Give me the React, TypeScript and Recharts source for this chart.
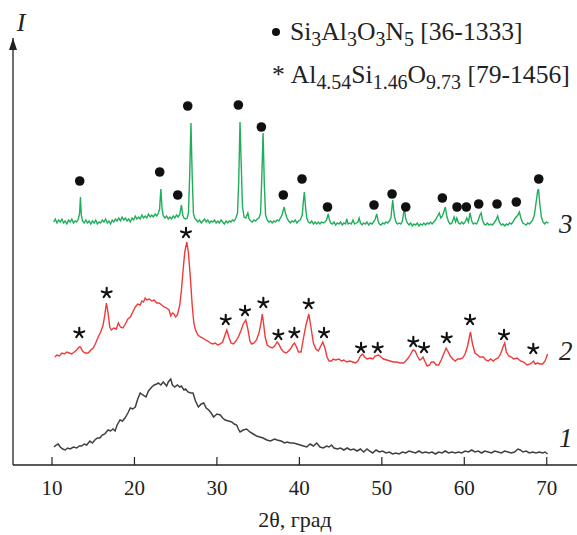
import { ComposedChart, Line, Scatter, XAxis, YAxis, Legend, ReferenceDot } from "recharts"

const serif = "'Liberation Serif', 'Times New Roman', serif"

const xTicks = [10, 20, 30, 40, 50, 60, 70]

// [2θ, intensity] – trace 3 (green)
const trace3: [number, number][] = [
  [10.2, 243], [10.4, 246], [10.6, 242], [10.8, 245], [11.0, 243], [11.2, 246], [11.4, 242], [11.6, 244], [11.8, 241], [12.0, 245],
  [12.2, 243], [12.4, 246], [12.6, 242], [12.8, 244], [13.0, 243], [13.2, 246], [13.35, 252], [13.45, 268], [13.55, 250], [13.7, 244],
  [13.9, 242], [14.1, 245], [14.3, 242], [14.5, 244], [14.7, 241], [14.9, 244], [15.1, 242], [15.3, 245], [15.5, 241], [15.7, 243],
  [15.9, 242], [16.1, 245], [16.3, 243], [16.5, 246], [16.7, 242], [16.9, 244], [17.1, 241], [17.3, 245], [17.5, 243], [17.7, 246],
  [17.9, 244], [18.1, 247], [18.3, 244], [18.5, 248], [18.7, 245], [18.9, 247], [19.1, 244], [19.3, 246], [19.5, 243], [19.7, 247],
  [19.9, 245], [20.1, 249], [20.3, 246], [20.5, 248], [20.7, 246], [20.9, 250], [21.1, 247], [21.3, 249], [21.5, 247], [21.7, 251],
  [21.9, 248], [22.1, 250], [22.3, 248], [22.5, 251], [22.7, 249], [22.9, 252], [23.05, 256], [23.2, 276], [23.35, 256], [23.5, 249],
  [23.7, 247], [23.9, 249], [24.1, 246], [24.3, 248], [24.5, 246], [24.7, 249], [24.9, 247], [25.1, 250], [25.3, 248], [25.5, 251],
  [25.7, 260], [25.85, 250], [26.0, 247], [26.2, 246], [26.4, 247], [26.55, 252], [26.7, 290], [26.85, 342], [27.0, 290], [27.15, 252],
  [27.3, 247], [27.5, 245], [27.7, 243], [27.9, 245], [28.1, 242], [28.3, 244], [28.5, 246], [28.7, 243], [28.9, 245], [29.1, 242],
  [29.3, 244], [29.5, 243], [29.7, 245], [29.9, 242], [30.1, 244], [30.3, 242], [30.5, 245], [30.7, 243], [30.9, 241], [31.1, 244],
  [31.3, 242], [31.5, 244], [31.7, 243], [31.9, 245], [32.1, 244], [32.3, 247], [32.5, 252], [32.65, 285], [32.8, 343], [32.95, 300],
  [33.1, 258], [33.3, 248], [33.5, 247], [33.75, 252], [33.9, 246], [34.1, 244], [34.3, 243], [34.5, 245], [34.7, 244], [34.9, 246],
  [35.1, 247], [35.3, 252], [35.45, 290], [35.6, 332], [35.75, 280], [35.9, 250], [36.1, 245], [36.3, 243], [36.5, 244], [36.7, 242],
  [36.9, 244], [37.1, 243], [37.3, 245], [37.5, 244], [37.7, 247], [37.9, 250], [38.05, 255], [38.17, 258], [38.3, 252], [38.5, 247],
  [38.7, 244], [38.9, 242], [39.1, 244], [39.3, 243], [39.5, 245], [39.7, 242], [39.9, 244], [40.1, 245], [40.35, 250], [40.5, 265],
  [40.6, 273], [40.75, 258], [40.9, 247], [41.1, 243], [41.3, 242], [41.5, 244], [41.7, 241], [41.9, 243], [42.1, 241], [42.3, 243],
  [42.5, 241], [42.7, 243], [42.9, 242], [43.1, 243], [43.3, 245], [43.5, 251], [43.65, 245], [43.8, 242], [44.0, 241], [44.2, 243],
  [44.4, 240], [44.6, 242], [44.8, 241], [45.0, 243], [45.2, 240], [45.4, 242], [45.6, 241], [45.75, 246], [45.9, 241], [46.1, 242],
  [46.3, 241], [46.5, 245], [46.7, 241], [46.9, 242], [47.1, 243], [47.25, 247], [47.4, 242], [47.6, 240], [47.8, 242], [48.0, 241],
  [48.2, 243], [48.4, 240], [48.6, 242], [48.8, 241], [49.0, 243], [49.2, 246], [49.38, 251], [49.55, 244], [49.7, 241], [49.9, 240],
  [50.1, 242], [50.3, 241], [50.5, 243], [50.7, 242], [50.9, 244], [51.1, 247], [51.32, 265], [51.5, 250], [51.7, 243], [51.9, 241],
  [52.1, 242], [52.3, 241], [52.5, 244], [52.73, 257], [52.9, 246], [53.1, 242], [53.3, 240], [53.5, 242], [53.7, 239], [53.9, 241],
  [54.1, 240], [54.3, 242], [54.5, 239], [54.7, 241], [54.9, 240], [55.1, 242], [55.3, 240], [55.5, 242], [55.7, 241], [55.9, 243],
  [56.1, 241], [56.3, 243], [56.5, 245], [56.7, 248], [56.97, 252], [57.15, 247], [57.35, 249], [57.55, 254], [57.7, 258], [57.9, 248],
  [58.1, 243], [58.3, 241], [58.5, 242], [58.76, 248], [58.95, 243], [59.1, 247], [59.3, 242], [59.5, 241], [59.7, 243], [59.9, 241],
  [60.1, 243], [60.3, 247], [60.5, 243], [60.7, 252], [60.9, 244], [61.1, 241], [61.3, 242], [61.5, 241], [61.7, 245], [61.9, 250],
  [62.05, 252], [62.2, 245], [62.4, 241], [62.6, 240], [62.8, 242], [63.0, 240], [63.2, 241], [63.4, 240], [63.6, 242], [63.85, 245],
  [64.05, 249], [64.25, 243], [64.5, 240], [64.7, 241], [64.9, 239], [65.1, 241], [65.3, 240], [65.5, 242], [65.7, 241], [65.9, 243],
  [66.1, 246], [66.3, 248], [66.5, 250], [66.68, 253], [66.9, 246], [67.1, 242], [67.3, 241], [67.5, 240], [67.7, 242], [67.9, 241],
  [68.1, 243], [68.3, 245], [68.5, 250], [68.7, 262], [68.9, 274], [69.0, 276], [69.15, 262], [69.35, 248], [69.55, 243], [69.75, 241],
  [69.95, 243], [70.2, 242],
]

// trace 2 (red)
const trace2: [number, number][] = [
  [10.35, 108], [10.6, 110], [10.9, 109], [11.2, 112], [11.5, 111], [11.8, 113], [12.1, 112], [12.4, 111], [12.7, 113], [13.0, 115],
  [13.3, 118], [13.45, 118], [13.7, 114], [14.0, 112], [14.4, 112], [14.7, 115], [15.0, 117], [15.3, 122], [15.6, 128], [15.9, 133],
  [16.2, 140], [16.4, 150], [16.6, 162], [16.8, 152], [17.0, 138], [17.2, 135], [17.5, 137], [17.8, 136], [18.05, 142], [18.3, 138],
  [18.6, 137], [18.9, 141], [19.2, 146], [19.5, 148], [19.8, 153], [20.1, 158], [20.4, 161], [20.7, 160], [20.9, 164], [21.1, 163],
  [21.3, 167], [21.5, 165], [21.8, 166], [22.1, 164], [22.4, 165], [22.7, 162], [23.0, 162], [23.3, 160], [23.6, 158], [23.9, 157],
  [24.2, 155], [24.4, 149], [24.6, 152], [24.8, 151], [25.0, 148], [25.2, 150], [25.5, 160], [25.7, 175], [25.9, 195], [26.1, 213],
  [26.35, 223], [26.55, 212], [26.8, 185], [27.0, 160], [27.2, 142], [27.4, 135], [27.7, 130], [28.0, 128], [28.3, 127], [28.6, 125],
  [28.9, 124], [29.2, 122], [29.5, 121], [29.8, 122], [30.1, 120], [30.4, 121], [30.7, 123], [30.9, 128], [31.2, 135], [31.45, 128],
  [31.7, 122], [32.0, 121], [32.3, 124], [32.6, 128], [32.9, 134], [33.2, 141], [33.5, 145], [33.75, 136], [34.0, 124], [34.2, 121],
  [34.5, 122], [34.8, 125], [35.1, 132], [35.35, 142], [35.5, 151], [35.65, 142], [35.85, 128], [36.1, 120], [36.4, 118], [36.7, 117],
  [37.0, 119], [37.3, 123], [37.5, 121], [37.8, 116], [38.1, 113], [38.4, 112], [38.7, 114], [39.0, 117], [39.2, 120], [39.4, 122],
  [39.6, 119], [39.9, 113], [40.2, 113], [40.5, 127], [40.8, 140], [41.15, 151], [41.4, 138], [41.7, 122], [42.0, 116], [42.3, 114],
  [42.6, 119], [42.85, 123], [43.1, 117], [43.35, 108], [43.6, 104], [43.9, 104], [44.1, 106], [44.4, 105], [44.8, 106], [45.1, 104],
  [45.4, 105], [45.75, 103], [46.1, 104], [46.5, 103], [46.8, 102], [47.1, 104], [47.4, 109], [47.65, 111], [47.9, 108], [48.2, 106],
  [48.6, 107], [48.9, 106], [49.2, 109], [49.6, 110], [49.9, 108], [50.2, 106], [50.6, 105], [51.0, 104], [51.4, 103], [51.8, 103],
  [52.2, 102], [52.6, 102], [52.9, 104], [53.2, 107], [53.5, 111], [53.8, 115], [54.05, 114], [54.3, 109], [54.6, 105], [54.8, 106],
  [55.0, 108], [55.2, 104], [55.5, 99], [55.8, 100], [56.0, 103], [56.3, 103], [56.6, 100], [56.9, 100], [57.2, 105], [57.5, 111],
  [57.8, 117], [58.0, 114], [58.3, 109], [58.6, 106], [58.9, 104], [59.2, 106], [59.5, 106], [59.8, 107], [60.1, 111], [60.4, 119],
  [60.75, 133], [61.0, 121], [61.3, 112], [61.6, 110], [61.9, 108], [62.3, 108], [62.6, 105], [62.9, 104], [63.2, 106], [63.5, 104],
  [63.8, 106], [64.1, 107], [64.4, 111], [64.7, 118], [64.9, 122], [65.1, 113], [65.4, 109], [65.7, 108], [66.0, 106], [66.4, 107],
  [66.8, 104], [67.2, 103], [67.6, 100], [68.0, 101], [68.4, 104], [68.6, 101], [68.9, 102], [69.2, 101], [69.5, 101], [69.8, 104],
  [70.1, 111],
]

// trace 1 (grey)
const trace1: [number, number][] = [
  [10.25, 18], [10.5, 20], [10.75, 21], [11.0, 18], [11.3, 16], [11.6, 15], [11.9, 17], [12.2, 16], [12.6, 18], [13.0, 17],
  [13.3, 19], [13.6, 19], [13.9, 21], [14.2, 20], [14.6, 24], [14.9, 22], [15.2, 25], [15.5, 27], [15.8, 27], [16.1, 30],
  [16.4, 31], [16.8, 35], [17.1, 34], [17.4, 36], [17.65, 34], [17.9, 40], [18.25, 45], [18.55, 44], [18.85, 47], [19.2, 52],
  [19.5, 57], [19.8, 56], [20.1, 58], [20.4, 66], [20.7, 72], [21.0, 70], [21.4, 68], [21.7, 74], [22.1, 78], [22.4, 80],
  [22.7, 81], [22.9, 82], [23.2, 80], [23.5, 83], [23.7, 81], [23.9, 79], [24.1, 83], [24.4, 86], [24.6, 80], [24.9, 78],
  [25.2, 80], [25.5, 78], [25.7, 79], [26.0, 75], [26.2, 76], [26.5, 73], [26.8, 72], [27.1, 72], [27.4, 64], [27.75, 58],
  [28.1, 61], [28.4, 62], [28.7, 57], [29.0, 55], [29.3, 52], [29.6, 48], [30.0, 51], [30.4, 50], [30.7, 47], [31.0, 45],
  [31.4, 44], [31.8, 43], [32.1, 41], [32.4, 40], [32.6, 36], [32.8, 33], [33.2, 35], [33.6, 36], [34.0, 33], [34.4, 31],
  [34.8, 29], [35.2, 28], [35.6, 27], [36.05, 25], [36.5, 24], [37.0, 26], [37.3, 25], [37.8, 24], [38.2, 22], [38.5, 23],
  [38.9, 22], [39.3, 22], [39.7, 21], [40.1, 20], [40.5, 19], [40.9, 18], [41.3, 21], [41.7, 19], [42.1, 22], [42.5, 18],
  [42.9, 17], [43.3, 19], [43.6, 18], [43.9, 20], [44.2, 17], [44.6, 16], [45.0, 17], [45.4, 15], [45.8, 17], [46.2, 15],
  [46.6, 16], [47.0, 14], [47.4, 16], [47.8, 13], [48.2, 16], [48.5, 14], [48.9, 12], [49.3, 15], [49.7, 13], [50.1, 14],
  [50.5, 12], [50.9, 13], [51.3, 11], [51.7, 12], [52.1, 11], [52.5, 13], [52.9, 12], [53.3, 14], [53.7, 13], [54.1, 12],
  [54.5, 14], [54.9, 12], [55.3, 13], [55.7, 12], [56.1, 13], [56.5, 11], [56.9, 13], [57.3, 12], [57.7, 14], [58.1, 12],
  [58.5, 13], [58.9, 12], [59.3, 13], [59.7, 12], [60.1, 14], [60.5, 13], [60.9, 15], [61.3, 13], [61.7, 14], [62.1, 12],
  [62.5, 14], [62.9, 13], [63.3, 12], [63.7, 14], [64.1, 13], [64.5, 12], [64.9, 14], [65.3, 13], [65.7, 12], [66.1, 13],
  [66.5, 16], [66.8, 15], [67.1, 13], [67.5, 14], [67.9, 12], [68.3, 13], [68.7, 12], [69.1, 13], [69.5, 12], [69.8, 13],
  [70.1, 11],
]

// Si3Al3O3N5 reflections (dots above trace 3)
const sialonMarks: [number, number][] = [
  [13.36, 284], [23.06, 293], [25.25, 270], [26.46, 359], [32.6, 360], [35.39, 338], [38.05, 270], [40.32, 286], [43.41, 258],
  [49.05, 260], [51.24, 271], [52.9, 258], [57.34, 267], [59.12, 258], [60.25, 258], [61.75, 261], [63.97, 261], [66.31, 263],
  [69.03, 286],
]

// Al4.54Si1.46O9.73 reflections (asterisks above trace 2)
const mulliteMarks: [number, number][] = [
  [13.31, 132], [16.63, 172], [26.25, 232], [31.07, 145], [33.41, 154], [35.63, 162], [37.45, 130], [39.39, 132], [41.13, 161],
  [42.99, 132], [47.48, 117], [49.5, 117], [53.82, 123], [55.12, 117], [57.87, 127], [60.7, 145], [64.82, 130], [68.37, 116],
]

const traceLabels: [string, number][] = [["3", 242], ["2", 115], ["1", 28]]

const pts = (a: [number, number][]) => a.map(([x, v]) => ({ x, v }))

function XTick({ x, y, payload }: any) {
  return (
    <g>
      <line x1={x} x2={x} y1={y} y2={y - 8} stroke="#222" strokeWidth={1.2} />
      <text x={x} y={y + 30} textAnchor="middle" fontSize={21} fill="#222" fontFamily={serif}>
        {payload.value}
      </text>
    </g>
  )
}

function Dot({ cx, cy }: any) {
  return <circle cx={cx} cy={cy} r={4.8} fill="#111" />
}

// five-armed asterisk, like the serif "*"
function Star({ cx, cy }: any) {
  const arms = [-90, -18, 54, 126, 198].map((a) => {
    const r = (a * Math.PI) / 180
    return `M${cx},${cy} L${cx + 5.2 * Math.cos(r)},${cy + 5.2 * Math.sin(r)}`
  })
  return <path d={arms.join(" ")} stroke="#111" strokeWidth={2.1} strokeLinecap="round" fill="none" />
}

const sub = { fontSize: "0.78em", position: "relative" as const, top: "0.3em" }

function LegendBox() {
  return (
    <div style={{ fontFamily: serif, fontSize: 25.6, color: "#222", lineHeight: "42px", whiteSpace: "nowrap" }}>
      <div>
        <span style={{ display: "inline-block", width: 8, height: 8, borderRadius: 4, background: "#111", marginRight: 10, verticalAlign: "middle", position: "relative", top: -2 }} />
        Si<span style={sub}>3</span>Al<span style={sub}>3</span>O<span style={sub}>3</span>N<span style={sub}>5</span> [36-1333]
      </div>
      <div>
        <span style={{ marginRight: 6 }}>*</span>
        Al<span style={sub}>4.54</span>Si<span style={sub}>1.46</span>O<span style={sub}>9.73</span> [79-1456]
      </div>
    </div>
  )
}

export default function App() {
  return (
    <div style={{ position: "absolute", left: 0, top: 0, width: 577, height: 535, background: "#fff" }}>
      <ComposedChart width={577} height={535} margin={{ top: 38, right: 0, bottom: 0, left: 0 }} style={{ fontFamily: serif }}>
        <XAxis
          dataKey="x"
          type="number"
          domain={[5.27, 73.67]}
          ticks={xTicks}
          allowDataOverflow
          height={70}
          tickSize={0}
          tickMargin={0}
          tickLine={false}
          tick={<XTick />}
          axisLine={{ stroke: "#222", strokeWidth: 1.3 }}
          label={{
            content: ({ viewBox }: any) => (
              <text x={viewBox.x + viewBox.width / 2} y={viewBox.y + 62} textAnchor="middle" fontSize={22} fill="#222" fontFamily={serif}>
                2θ, град
              </text>
            ),
          }}
        />
        <YAxis
          type="number"
          domain={[0, 427]}
          allowDataOverflow
          width={13}
          tick={false}
          tickLine={false}
          axisLine={{ stroke: "#222", strokeWidth: 1.3 }}
          label={{
            content: ({ viewBox }: any) => {
              const ax = viewBox.x + viewBox.width
              const top = viewBox.y
              return (
                <g>
                  <polygon points={`${ax},${top} ${ax - 4},${top + 12} ${ax + 4},${top + 12}`} fill="#222" />
                  <text x={ax + 8} y={top - 7} textAnchor="middle" fontSize={26} fontStyle="italic" fill="#222" fontFamily={serif}>
                    I
                  </text>
                </g>
              )
            },
          }}
        />
        <Legend layout="horizontal" verticalAlign="middle" align="center" content={<LegendBox />} wrapperStyle={{ top: 11, left: 272, width: 305 }} />
        <Line data={pts(trace1)} dataKey="v" stroke="#404040" strokeWidth={1.5} dot={false} isAnimationActive={false} type="linear" />
        <Line data={pts(trace2)} dataKey="v" stroke="#f03a3a" strokeWidth={1.4} dot={false} isAnimationActive={false} type="linear" />
        <Line data={pts(trace3)} dataKey="v" stroke="#1fae5b" strokeWidth={1.4} dot={false} isAnimationActive={false} type="linear" />
        <Scatter data={pts(sialonMarks)} dataKey="v" shape={<Dot />} isAnimationActive={false} />
        <Scatter data={pts(mulliteMarks)} dataKey="v" shape={<Star />} isAnimationActive={false} />
        {traceLabels.map(([t, v]) => (
          <ReferenceDot
            key={t}
            x={72.3}
            y={v}
            r={0}
            stroke="none"
            fill="none"
            label={{ value: t, position: "center", fontSize: 27, fontStyle: "italic", fill: "#222", fontFamily: serif }}
          />
        ))}
      </ComposedChart>
    </div>
  )
}
